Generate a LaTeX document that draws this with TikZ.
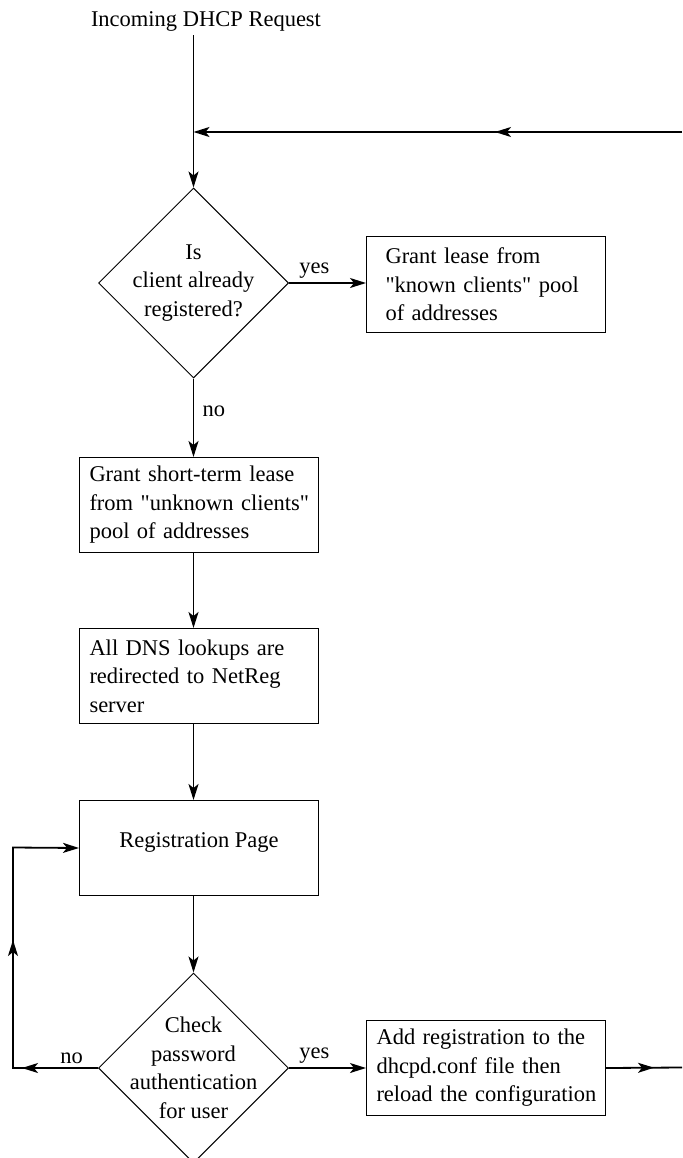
\documentclass[tikz,border=0pt]{standalone}
\usepackage{fontspec}
\setmainfont{Liberation Serif}[Ligatures=TeXOff]
\usetikzlibrary{shapes.geometric, arrows.meta, decorations.markings, calc}
\tikzset{
    link/.style={line width=1.8pt},
    flow/.style={link, -{Stealth[length=16pt, width=10pt, inset=4pt]}},
    midarrow/.style={postaction={decorate, decoration={markings,
        mark=at position #1 with {\arrow{Stealth[length=16pt, width=10pt, inset=4pt]}}}}},
    plainbox/.style={draw, line width=1pt, rectangle, minimum width=239pt,
        minimum height=95pt, anchor=north west},
    stepbox/.style={plainbox, inner xsep=0pt, text width=239pt, align=left,
        execute at begin node={\leftskip=#1\relax}},
    stepbox/.default=10pt,
    decide/.style={draw, line width=1pt, diamond, minimum width=190pt,
        minimum height=190pt, inner sep=-25pt, align=center},
    every node/.append style={font=\fontsize{22.5}{28.5}\selectfont},
}

\begin{document}
\begin{tikzpicture}[x=1pt, y=-1pt]
    \useasboundingbox (0,0) rectangle (682,1158);

    \node[anchor=base] (title) at (206,27) {Incoming DHCP Request};

    \node[decide] (d1) at (193.5,283) {Is\\client already\\registered?};
    \node[stepbox=19pt, anchor=west] (known) at (366,284.5)
        {Grant lease from\\"known clients" pool\\of addresses};
    \node[stepbox] (unknown) at (79,457)
        {Grant short-term lease\\from "unknown clients"\\pool of addresses};
    \node[stepbox] (dns) at (79,628)
        {All DNS lookups are\\redirected to NetReg\\server};
    \node[plainbox, text depth=15pt] (regpage) at (79,800) {Registration Page};
    \node[decide] (d2) at (193.5,1068) {Check\\password\\authentication\\for user};
    \node[stepbox] (addreg) at (366,1020)
        {Add registration to the\\dhcpd.conf file then\\reload the configuration};

    \coordinate (inR) at (682,132);
    \coordinate (join) at (193.5,132);
    \coordinate (outR) at (682,1067.5);
    \coordinate (loopbot) at (13,1068);
    \coordinate (looptop) at (13,847.5);

    % main line down
    \draw[flow] (title.south -| d1.north) -- (d1.north);
    \draw[flow, midarrow=187pt] (inR) -- (join);
    \draw[flow] (d1.east) -- node[above, pos=0.33] {yes} (d1.east -| known.west);
    \draw[flow] (d1.south) -- node[right, pos=0.42, xshift=5pt] {no} (d1.south |- unknown.north);
    \draw[flow] (unknown.south -| d1.south) -- (dns.north -| d1.south);
    \draw[flow] (dns.south -| d1.south) -- (regpage.north -| d1.south);
    \draw[flow] (regpage.south -| d2.north) -- (d2.north);

    % outcome of the password check
    \draw[flow] (d2.east) -- node[above, pos=0.33] {yes} (d2.east -| addreg.west);
    \draw[link, midarrow=48pt] (addreg.east) -- (outR);
    \draw[flow, midarrow=76pt, midarrow=213pt] (d2.west) -- node[above, pos=0.31] {no} (loopbot)
        -- (looptop) -- (regpage.west);
\end{tikzpicture}
\end{document}
